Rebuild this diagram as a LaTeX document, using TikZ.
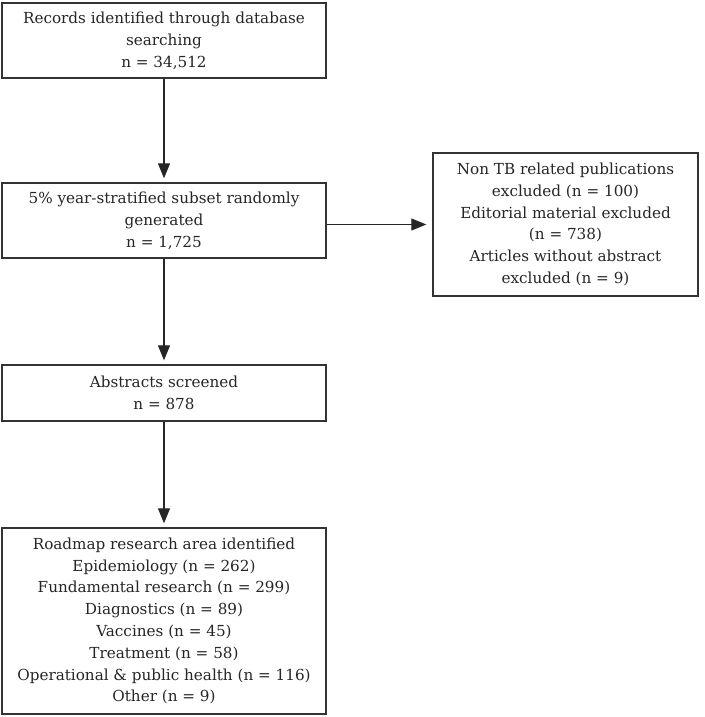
\documentclass[tikz,border=0pt]{standalone}
\usepackage{fontspec}
\setmainfont{DejaVu Serif}
\usetikzlibrary{arrows.meta}
\definecolor{boxline}{HTML}{333333}
\tikzset{
  box/.style={draw=boxline, line width=1.4pt, rectangle, inner sep=0pt, align=center,
    font=\fontsize{15.2}{21.8}\selectfont, text=black!85},
  conn/.style={line width=1.2pt, draw=black!85, -{Triangle[length=15pt,width=12pt]}, shorten >=4pt}
}
\begin{document}
\begin{tikzpicture}[x=1pt,y=-1pt]
\fill[white] (0,0) rectangle (704,717);
\useasboundingbox (0,0) rectangle (704,717);
\node[box, minimum width=324pt, minimum height=75pt] (b1) at (164,40.5)
  {Records identified through database\\searching\\n = 34,512};
\node[box, minimum width=324pt, minimum height=75pt] (b2) at (164,220.5)
  {5\% year-stratified subset randomly\\generated\\n = 1,725};
\node[box, minimum width=265pt, minimum height=143pt] (b3) at (565.5,224.5)
  {Non TB related publications\\excluded (n = 100)\\Editorial material excluded\\(n = 738)\\Articles without abstract\\excluded (n = 9)};
\node[box, minimum width=324pt, minimum height=56pt] (b4) at (164,393)
  {Abstracts screened\\n = 878};
\node[box, minimum width=324pt, minimum height=186pt] (b5) at (164,621)
  {Roadmap research area identified\\Epidemiology (n = 262)\\Fundamental research (n = 299)\\Diagnostics (n = 89)\\Vaccines (n = 45)\\Treatment (n = 58)\\Operational \& public health (n = 116)\\Other (n = 9)};
\draw[conn] (b1) -- (b2);
\draw[conn, shorten >=6pt] (b2.east |- b3.west) -- (b3.west);
\draw[conn] (b2) -- (b4);
\draw[conn] (b4) -- (b5);
\end{tikzpicture}
\end{document}
